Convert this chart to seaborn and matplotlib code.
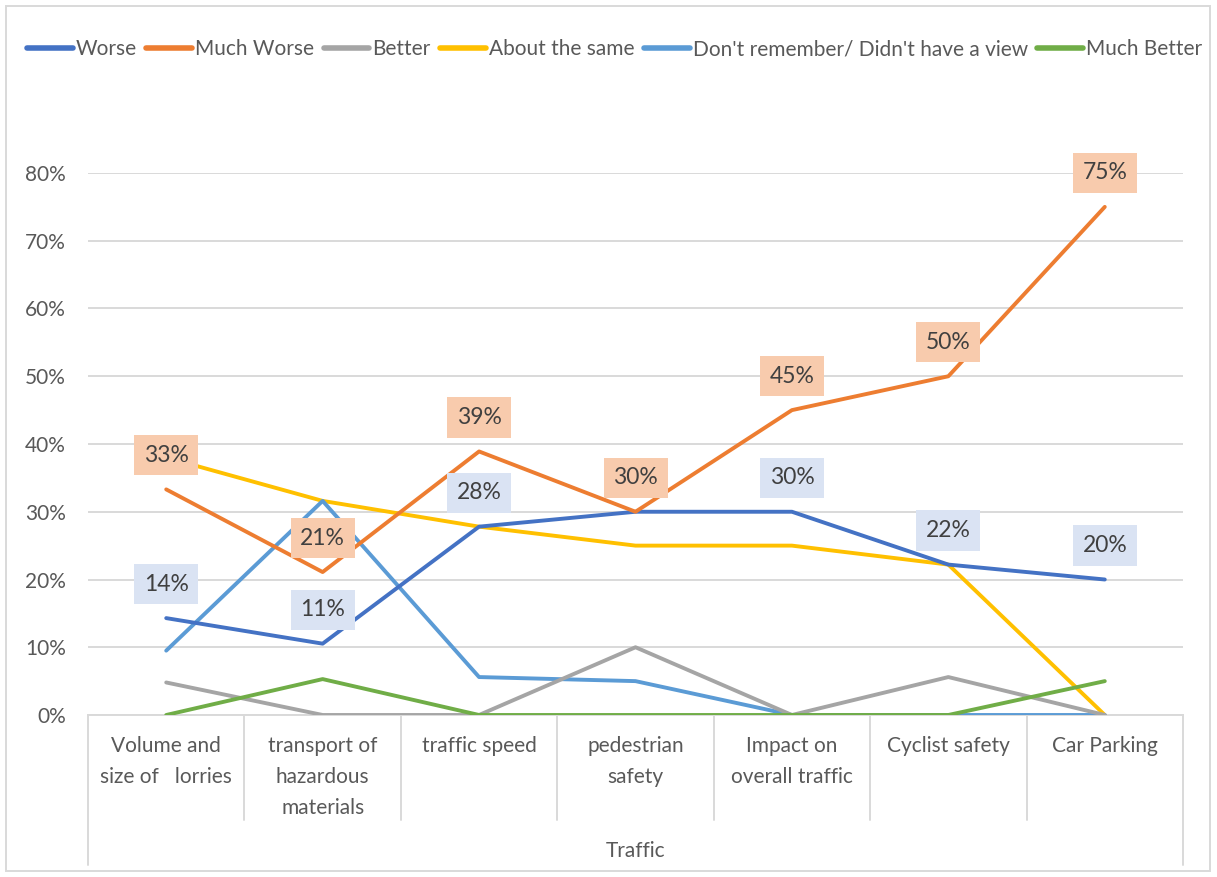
import numpy as np
import pandas as pd
import seaborn as sns
import matplotlib.pyplot as plt
from matplotlib.lines import Line2D
from matplotlib.patches import Rectangle
import matplotlib.transforms as mtransforms

# ---------------------------- data ------------------------------------------
categories = ["Volume and\nsize of   lorries", "transport of\nhazardous\nmaterials",
              "traffic speed", "pedestrian\nsafety", "Impact on\noverall traffic",
              "Cyclist safety", "Car Parking"]
group_label = "Traffic"

series_names = ["Worse", "Much Worse", "Better", "About the same",
                "Don't remember/ Didn't have a view", "Much Better"]
worse = [0.143, 0.1053, 0.278, 0.30, 0.30, 0.222, 0.20]
much_worse = [0.333, 0.211, 0.389, 0.30, 0.45, 0.50, 0.75]
better = [0.048, 0.0, 0.0, 0.10, 0.0, 0.056, 0.0]
about_same = [0.38, 0.316, 0.278, 0.25, 0.25, 0.222, 0.0]
dont_remember = [0.095, 0.316, 0.056, 0.05, 0.0, 0.0, 0.0]
much_better = [0.0, 0.053, 0.0, 0.0, 0.0, 0.0, 0.05]

colors = ["#4472C4", "#ED7D31", "#A5A5A5", "#FFC000", "#5B9BD5", "#70AD47"]

all_vals = [worse, much_worse, better, about_same, dont_remember, much_better]
df = pd.DataFrame({
    "x": np.tile(np.arange(len(categories)), len(series_names)),
    "value": np.concatenate(all_vals),
    "series": np.repeat(series_names, len(categories)),
})

# ---------------------------- plot ------------------------------------------
sns.set_style("white")
plt.rcParams['font.family'] = ['Lato', 'DejaVu Sans']
txt = "#595959"

fig = plt.figure(figsize=(12.17, 8.77), dpi=100)
W, H = 1217, 877
ax = fig.add_axes([88 / W, (H - 715) / H, (1183 - 88) / W, (715 - 173) / H])

# draw order: light blue / yellow / gray / green below, orange and blue on top
order = ["About the same", "Don't remember/ Didn't have a view", "Better",
         "Worse", "Much Worse", "Much Better"]
pal = dict(zip(series_names, colors))
for name in order:
    sub = df[df["series"] == name]
    sns.lineplot(data=sub, x="x", y="value", color=pal[name], lw=2.8,
                 ax=ax, legend=False, solid_capstyle="round", zorder=3)

ax.set_xlim(-0.5, len(categories) - 0.5)
ax.set_ylim(0, 0.8)
ax.set_yticks(np.arange(0, 0.81, 0.1))
ax.set_yticklabels([f"{int(round(v * 100))}%" for v in np.arange(0, 0.81, 0.1)],
                   fontsize=15, color=txt)
ax.tick_params(axis="y", length=0, pad=16)
ax.yaxis.grid(True, color="#D9D9D9", lw=1.4, zorder=0)
ax.set_xticks(range(len(categories)))
ax.set_xticklabels(categories, fontsize=15, color=txt, linespacing=1.7, va="top")
ax.tick_params(axis="x", length=0, pad=15)
ax.set_xlabel("")
ax.set_ylabel("")
for s in ["top", "right", "left"]:
    ax.spines[s].set_visible(False)
ax.spines["bottom"].set_color("#D9D9D9")
ax.spines["bottom"].set_linewidth(1.4)

# table-style separators under the axis
trans = mtransforms.blended_transform_factory(ax.transData, ax.transAxes)
inner_bottom = -(820 - 715) / (715 - 173)
outer_bottom = -(865 - 715) / (715 - 173)
for b in np.arange(0.5, len(categories) - 1, 1.0):
    ax.plot([b, b], [0, inner_bottom], transform=trans, color="#D9D9D9",
            lw=1.4, clip_on=False)
for b in [-0.5, len(categories) - 0.5]:
    ax.plot([b, b], [0, outer_bottom], transform=trans, color="#D9D9D9",
            lw=1.4, clip_on=False)
ax.text(3, -(851 - 715) / (715 - 173), group_label, transform=trans,
        ha="center", va="center", fontsize=15, color=txt)

# data labels (orange drawn over blue)
def add_labels(vals, face, z):
    for i, v in enumerate(vals):
        ax.annotate(f"{v * 100:.0f}%", (i, v), xytext=(0, 24.5),
                    textcoords="offset points", ha="center", va="center",
                    fontsize=16.5, color="#404040", zorder=z, annotation_clip=False,
                    bbox=dict(boxstyle="square,pad=0.42", fc=face, ec="none"))

add_labels(worse, "#DAE3F3", 5)
add_labels(much_worse, "#F8CBAD", 6)

# legend
handles = [Line2D([0], [0], color=c, lw=4, solid_capstyle="round") for c in colors]
fig.legend(handles, series_names, loc="center", bbox_to_anchor=(0.505, 1 - 49 / H),
           ncol=6, frameon=False, fontsize=15, handlelength=2.2,
           handletextpad=0.15, columnspacing=0.45, labelcolor=txt)

# chart border
fig.patches.append(Rectangle((6 / W, 6 / H), (1210 - 6) / W, (871 - 6) / H,
                             transform=fig.transFigure, fill=False,
                             ec="#D9D9D9", lw=1.4))

fig.savefig("out.png", dpi=100)
plt.close()
